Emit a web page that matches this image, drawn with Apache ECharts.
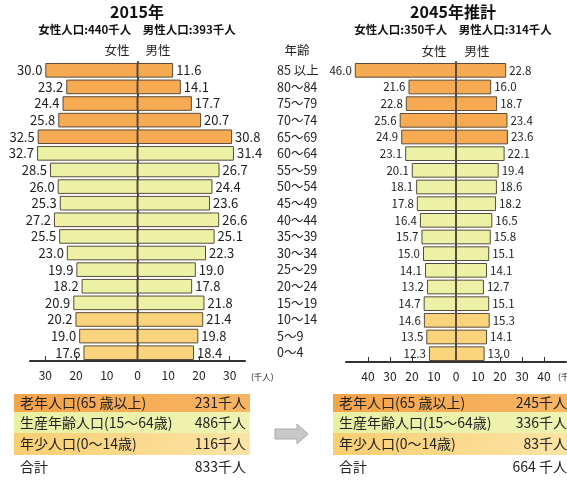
<!DOCTYPE html>
<html><head><meta charset="utf-8">
<script src="https://cdn.jsdelivr.net/npm/echarts/dist/echarts.min.js"></script>
<style>html,body{margin:0;padding:0;background:#fff}#c{width:567px;height:480px}</style>
</head><body><div id="c"></div>
<script>
const ages = ['85 以上','80～84','75～79','70～74','65～69','60～64','55～59','50～54','45～49','40～44','35～39','30～34','25～29','20～24','15～19','10～14','5～9','0～4'];
const female2015 = [30.0,23.2,24.4,25.8,32.5,32.7,28.5,26.0,25.3,27.2,25.5,23.0,19.9,18.2,20.9,20.2,19.0,17.6];
const male2015   = [11.6,14.1,17.7,20.7,30.8,31.4,26.7,24.4,23.6,26.6,25.1,22.3,19.0,17.8,21.8,21.4,19.8,18.4];
const female2045 = [46.0,21.6,22.8,25.6,24.9,23.1,20.1,18.1,17.8,16.4,15.7,15.0,14.1,13.2,14.7,14.6,13.5,12.3];
const male2045   = [22.8,16.0,18.7,23.4,23.6,22.1,19.4,18.6,18.2,16.5,15.8,15.1,14.1,12.7,15.1,15.3,14.1,13.0];
const ticks2015 = [-30,-20,-10,0,10,20,30];
const ticks2045 = [-40,-30,-20,-10,0,10,20,30,40];
const titles = ['2015年','2045年推計'];
const subtitles = ['女性人口:440千人　男性人口:393千人','女性人口:350千人　男性人口:314千人'];
const tableLabels = ['老年人口(65 歳以上)','生産年齢人口(15～64歳)','年少人口(0～14歳)','合計'];
const table2015 = ['231千人','486千人','116千人','833千人'];
const table2045 = ['245千人','336千人','83千人','664 千人'];

const FONT = '"Noto Sans CJK JP", "Noto Sans", sans-serif';
const cElder = '#F6AA52', cWork = '#ECF1A6', cChild = '#F9D47C';
function colorFor(i){ return i < 5 ? cElder : (i < 15 ? cWork : cChild); }
const border = {borderColor:'#5b4b3b', borderWidth:1};

function mk(vals, sign){ return vals.map((v,i)=>({value: sign*v, itemStyle:Object.assign({color: colorFor(i)}, border)})); }

function xAx(gi, mn, mx, ticks){
  return {gridIndex:gi, type:'value', min:mn, max:mx,
    axisLine:{show:true, onZero:false, lineStyle:{color:'#333', width:2}},
    axisTick:{show:true, inside:true, length:5, customValues: ticks.filter(t=>t!==0), lineStyle:{color:'#333', width:1}},
    axisLabel:{customValues: ticks, formatter:v=>Math.abs(v), margin:8, fontSize:12, color:'#222', fontFamily:FONT},
    splitLine:{show:false}};
}
function yAx(gi){
  return {gridIndex:gi, type:'category', data:ages, inverse:true,
    axisLine:{show:true, onZero:true, lineStyle:{color:'#444', width:2}},
    axisTick:{show:false}, axisLabel:{show:false}};
}
function barSeries(xi, vals, sign, fs){
  return {type:'bar', xAxisIndex:xi, yAxisIndex:xi, data: mk(vals, sign), barGap:'-100%', barCategoryGap:'12%',
    label:{show:true, position: sign<0 ? 'left':'right', distance:3, formatter:p=>Math.abs(p.value).toFixed(1),
      fontSize:fs, color:'#222', fontFamily:FONT}, silent:true};
}

const graphic = [];
function txt(x,y,s,font,align,fill){ graphic.push({type:'text', x:x, y:y, style:{text:s, font:font, textAlign:align||'left', textVerticalAlign:'middle', fill:fill||'#111'}}); }
txt(137, 12, titles[0], 'bold 16px '+FONT, 'center');
txt(453, 12, titles[1], 'bold 16px '+FONT, 'center');
txt(137, 30, subtitles[0], 'bold 11.5px '+FONT, 'center');
txt(453, 30, subtitles[1], 'bold 11.5px '+FONT, 'center');
txt(117, 50, '女性', '12.5px '+FONT, 'center', '#222');
txt(158, 50, '男性', '12.5px '+FONT, 'center', '#222');
txt(434, 51, '女性', '12.5px '+FONT, 'center', '#222');
txt(477, 51, '男性', '12.5px '+FONT, 'center', '#222');
txt(297, 50, '年齢', '12.5px '+FONT, 'center', '#222');
txt(251, 377, '(千人)', '8.5px '+FONT, 'left', '#222');
txt(558, 377, '(千人)', '8.5px '+FONT, 'left', '#222');

// tables
const rowY = [394, 412, 433, 455];
const rowH = [18, 21, 22, 23];
const rowFill = [
  {type:'linear', x:0,y:0,x2:1,y2:0, colorStops:[{offset:0,color:'#F5A44A'},{offset:1,color:'#F8B564'}]},
  {type:'linear', x:0,y:0,x2:1,y2:0, colorStops:[{offset:0,color:'#E9F0A2'},{offset:1,color:'#EEF3B2'}]},
  {type:'linear', x:0,y:0,x2:1,y2:0, colorStops:[{offset:0,color:'#F9CE72'},{offset:1,color:'#FCE4A6'}]},
  '#ffffff'
];
function table(x0, x1, vals){
  tableLabels.forEach((lab,i)=>{
    graphic.push({type:'rect', shape:{x:x0, y:rowY[i], width:x1-x0, height:rowH[i]}, style:{fill:rowFill[i]}, z:-1});
    txt(x0+6, rowY[i]+rowH[i]/2, lab, '14px '+FONT, 'left', '#222');
    txt(x1-4, rowY[i]+rowH[i]/2, vals[i], '14px '+FONT, 'right', '#222');
  });
}
table(14, 250, table2015);
table(333, 571, table2045);
// arrow
graphic.push({type:'polygon', shape:{points:[[275,429],[297,429],[297,424],[308,434],[297,444],[297,439],[275,439]]},
  style:{fill:'#c8c8c8', stroke:'#aaa', lineWidth:1}});

const chart = echarts.init(document.getElementById('c'), null, {renderer:'canvas'});
chart.setOption({
  animation:false,
  textStyle:{fontFamily:FONT},
  grid:[
    {left:30, width:215, top:62, height:299},
    {left:346, width:220, top:62, height:300}
  ],
  xAxis:[ xAx(0,-35,35,ticks2015), xAx(1,-50,50,ticks2045) ],
  yAxis:[ yAx(0), yAx(1),
    {gridIndex:0, type:'category', data:ages, inverse:true, position:'right', offset:32,
      axisLine:{show:false}, axisTick:{show:false},
      axisLabel:{show:true, margin:0, fontSize:12.5, color:'#222', fontFamily:FONT, align:'left'}}
  ],
  series:[
    barSeries(0, female2015, -1, 13),
    barSeries(0, male2015, 1, 13),
    barSeries(1, female2045, -1, 11.5),
    barSeries(1, male2045, 1, 11.5)
  ],
  graphic: graphic
});
</script></body></html>
